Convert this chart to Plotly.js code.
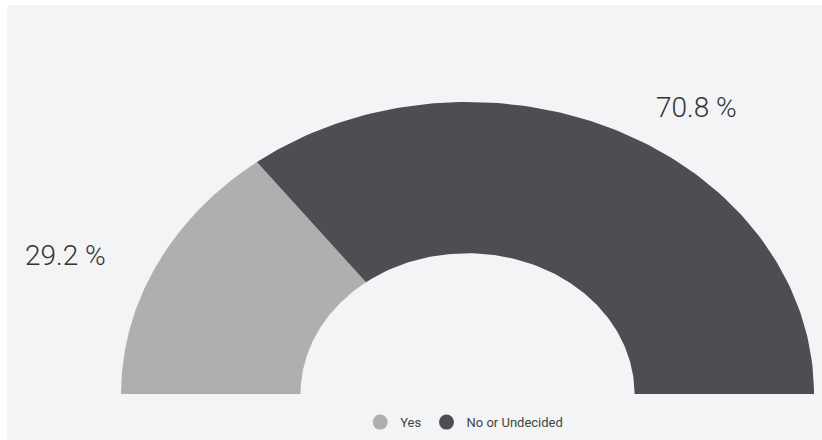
<!DOCTYPE html>
<html>
<head>
<meta charset="utf-8">
<script src="https://cdn.plot.ly/plotly-3.0.1.min.js"></script>
<style>html,body{margin:0;padding:0;background:#fff;}#chart{width:822px;height:440px;}</style>
</head>
<body>
<div id="chart"></div>
<script>
// ---- data ----
const categories = ['Yes', 'No or Undecided'];
const values = [29.2, 70.8];
const valueLabels = ['29.2 %', '70.8 %'];

// ---- style ----
const colors = ['#aeafae', '#4d4e52'];
const hole = 0.482;
const labelPos = [[-1.16, 0.474], [0.662, 0.98]];

const total = values.reduce((a, b) => a + b, 0);
const traces = [];
let startDeg = 180;
const N = 120;
values.forEach((v, i) => {
  const sweep = 180 * v / total;
  const a0 = startDeg, a1 = startDeg - sweep;
  const xs = [], ys = [];
  for (let k = 0; k <= N; k++) {
    const a = (a0 + (a1 - a0) * k / N) * Math.PI / 180;
    xs.push(Math.cos(a)); ys.push(Math.sin(a));
  }
  for (let k = N; k >= 0; k--) {
    const a = (a0 + (a1 - a0) * k / N) * Math.PI / 180;
    xs.push(hole * Math.cos(a)); ys.push(hole * Math.sin(a));
  }
  traces.push({
    type: 'scatter', mode: 'lines', x: xs, y: ys, fill: 'toself',
    fillcolor: colors[i], line: {width: 0, color: colors[i]},
    name: categories[i], showlegend: false, hoverinfo: 'name'
  });
  startDeg = a1;
});
// legend entries with circular markers
categories.forEach((c, i) => {
  traces.push({
    type: 'scatter', mode: 'markers', x: [null], y: [null], name: c,
    marker: {color: colors[i], size: 15, symbol: 'circle'}, showlegend: true
  });
});

const annotations = valueLabels.map((t, i) => ({
  x: labelPos[i][0], y: labelPos[i][1], xref: 'x', yref: 'y', text: t,
  showarrow: false, xanchor: 'center', yanchor: 'middle',
  font: {family: 'Roboto', size: 28, color: '#333335', weight: 300}
}));

const layout = {
  width: 822, height: 440,
  margin: {l: 7, r: 0, t: 5, b: 0, pad: 0},
  paper_bgcolor: '#ffffff',
  plot_bgcolor: '#f3f4f6',
  xaxis: {range: [-1.329, 1.023], visible: false, fixedrange: true},
  yaxis: {range: [-0.1575, 1.332], visible: false, fixedrange: true},
  showlegend: true,
  legend: {
    orientation: 'h', x: 0.561, xanchor: 'center', y: 0.041, yanchor: 'middle',
    bgcolor: 'rgba(0,0,0,0)', font: {family: 'Roboto', size: 13, color: '#444'},
    itemclick: false, itemdoubleclick: false
  },
  annotations: annotations
};

Plotly.newPlot('chart', traces, layout, {displayModeBar: false, staticPlot: true});
</script>
</body>
</html>
